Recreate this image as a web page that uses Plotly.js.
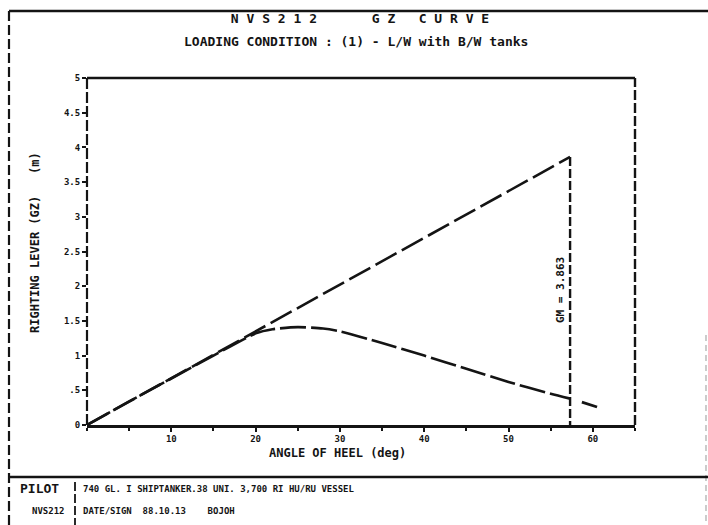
<!DOCTYPE html>
<html><head><meta charset="utf-8">
<script src="https://cdn.plot.ly/plotly-3.0.1.min.js"></script>
<style>html,body{margin:0;padding:0;background:#fff}#chart{width:708px;height:525px}</style>
</head><body><div id="chart"></div>
<script>
// ---- data ----
const heelAngle = [0, 5, 10, 15, 20, 22, 25, 28, 30, 35, 40, 45, 50, 55, 57.3];
const gzValues  = [0, 0.34, 0.67, 1.00, 1.32, 1.38, 1.41, 1.39, 1.35, 1.18, 1.00, 0.81, 0.62, 0.45, 0.38];
const gzTailAngle  = [58.7, 60.5];
const gzTailValues = [0.33, 0.26];
const gmAngle = 57.3;
const gmValue = 3.863;
const xTickVals = [10, 20, 30, 40, 50, 60];
const xTickText = ['10', '20', '30', '40', '50', '60'];
const yTickVals = [0, 0.5, 1, 1.5, 2, 2.5, 3, 3.5, 4, 4.5, 5];
const yTickText = ['0', '.5', '1', '1.5', '2', '2.5', '3', '3.5', '4', '4.5', '5'];
const titleText = 'NVS212   GZ CURVE';
const subtitleText = 'LOADING CONDITION : (1) - L/W with B/W tanks';
const xTitle = 'ANGLE OF HEEL (deg)';
const yTitle = 'RIGHTING LEVER (GZ)   (m)';
const gmLabel = 'GM = ' + gmValue.toFixed(3);
const footLeft = ['PILOT', 'NVS212'];
const footRight = ['740 GL. I SHIPTANKER.38 UNI. 3,700 RI HU/RU VESSEL', 'DATE/SIGN  88.10.13    BOJOH'];

const ink = '#141414';
const mono = '"DejaVu Sans Mono", "Liberation Mono", monospace';
function spaced(s) { return s.split('').join('\u00A0').replace(/ /g, '\u00A0'); }
function keep(s) { return s.replace(/ /g, '\u00A0'); }

const traces = [
  {x: [0, gmAngle], y: [0, gmValue], mode: 'lines', line: {color: ink, width: 2.6, dash: '24px,6px'}, hoverinfo: 'skip'},
  {x: [gmAngle, gmAngle], y: [gmValue, 0], mode: 'lines', line: {color: ink, width: 2.4, dash: '9px,3px'}, hoverinfo: 'skip'},
  {x: heelAngle, y: gzValues, mode: 'lines', line: {color: ink, width: 2.6, dash: '26px,5px', shape: 'spline', smoothing: 0.6}},
  {x: gzTailAngle, y: gzTailValues, mode: 'lines', line: {color: ink, width: 2.8}}
];

// plot area in px: x 87..635, y 78..425
const PX = px => (px - 87) / 548;
const PY = py => (425 - py) / 347;

const shapes = [
  // plot box
  {type: 'line', xref: 'paper', yref: 'paper', x0: 0, x1: 1, y0: 1, y1: 1, line: {color: ink, width: 2.5}},
  {type: 'line', xref: 'paper', yref: 'paper', x0: 1, x1: 1, y0: 0, y1: 1, line: {color: ink, width: 2.4, dash: '10px,3px'}},
  {type: 'line', xref: 'paper', yref: 'paper', x0: 0, x1: 0, y0: 0, y1: 1, line: {color: ink, width: 2.2, dash: '11px,3px'}},
  // page frame
  {type: 'line', xref: 'paper', yref: 'paper', x0: PX(9), x1: PX(708), y0: PY(11), y1: PY(11), line: {color: ink, width: 2.5}},
  {type: 'line', xref: 'paper', yref: 'paper', x0: PX(9), x1: PX(9), y0: PY(11), y1: PY(525), line: {color: ink, width: 2.2, dash: '10px,4px'}},
  {type: 'line', xref: 'paper', yref: 'paper', x0: PX(706), x1: PX(706), y0: PY(335), y1: PY(525), line: {color: '#aaa', width: 1.2, dash: '6px,4px'}},
  {type: 'line', xref: 'paper', yref: 'paper', x0: PX(9), x1: PX(708), y0: PY(477), y1: PY(477), line: {color: ink, width: 2.5}},
  {type: 'line', xref: 'paper', yref: 'paper', x0: PX(75), x1: PX(75), y0: PY(482), y1: PY(525), line: {color: ink, width: 1.8, dash: '9px,3px'}}
];

function ann(text, x, y, size, extra) {
  return Object.assign({text: '<b>' + text + '</b>', xref: 'paper', yref: 'paper', x: x, y: y,
    xanchor: 'center', yanchor: 'middle', showarrow: false, font: {family: mono, size: size, color: ink}}, extra || {});
}

const annotations = [
  ann(subtitleText, PX(356), PY(42), 13),
  ann(xTitle, PX(337), PY(453), 12),
  ann(keep(yTitle), PX(35), PY(243), 12, {textangle: -90}),
  ann(gmLabel, gmAngle, PY(290), 11, {xref: 'x', xshift: -10, textangle: -90}),
  ann(footLeft[0], PX(18), PY(489), 13, {xanchor: 'left'}),
  ann(footLeft[1], PX(30), PY(511), 9, {xanchor: 'left'}),
  ann(keep(footRight[0]), PX(81), PY(489), 9, {xanchor: 'left'}),
  ann(keep(footRight[1]), PX(81), PY(511), 9, {xanchor: 'left'})
];

const layout = {
  width: 708, height: 525,
  margin: {l: 87, r: 73, t: 78, b: 100},
  paper_bgcolor: '#fff', plot_bgcolor: '#fff',
  showlegend: false,
  title: {text: '<b>' + spaced(titleText) + '</b>', font: {family: mono, size: 13, color: ink}, xref: 'paper', x: PX(360), xanchor: 'center', yref: 'container', y: 1 - 18 / 525, yanchor: 'middle'},
  xaxis: {range: [0, 65], tickmode: 'array', tickvals: xTickVals, ticktext: xTickText,
          ticks: 'outside', ticklen: 4, tickwidth: 2, tickcolor: ink,
          minor: {dtick: 5, tick0: 0, ticks: 'outside', ticklen: 3, tickwidth: 2, tickcolor: ink},
          showline: true, linewidth: 2.5, linecolor: ink, showgrid: false, zeroline: false,
          tickfont: {family: mono, size: 9, color: ink, weight: 'bold'}},
  yaxis: {range: [0, 5], tickmode: 'array', tickvals: yTickVals, ticktext: yTickText,
          ticks: 'outside', ticklen: 4, tickwidth: 2, tickcolor: ink,
          showline: false, showgrid: false, zeroline: false,
          tickfont: {family: mono, size: 9, color: ink, weight: 'bold'}},
  shapes: shapes,
  annotations: annotations
};

Plotly.newPlot('chart', traces, layout, {displayModeBar: false, staticPlot: true});
</script>
</body></html>
